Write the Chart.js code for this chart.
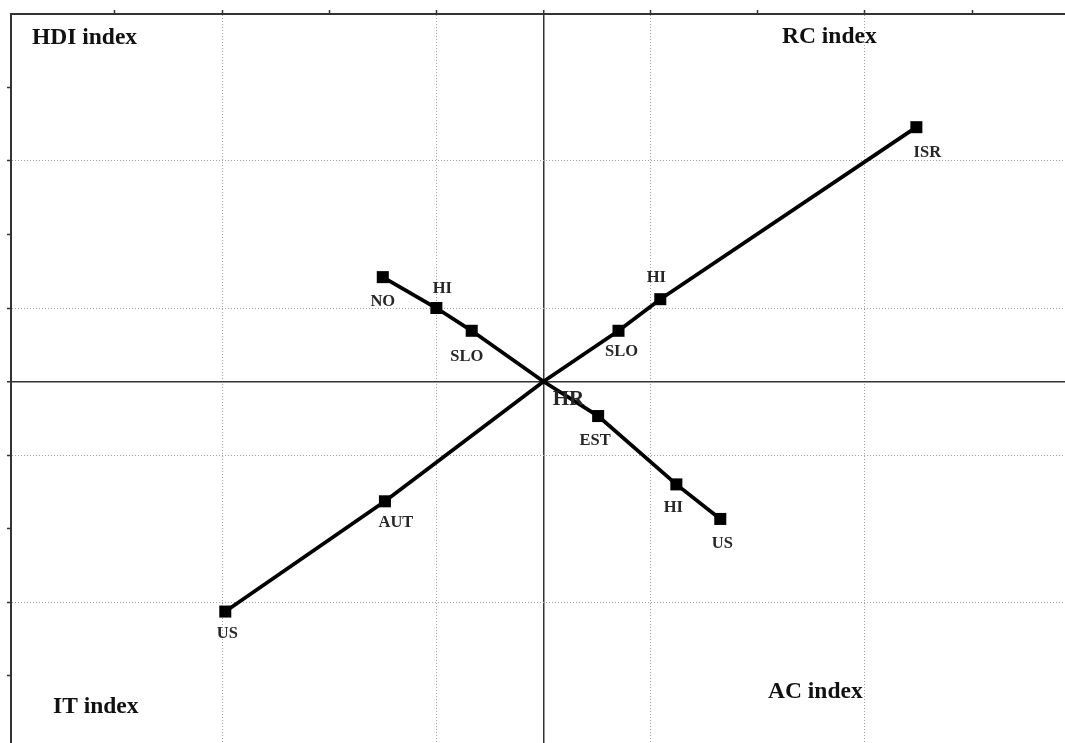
<!DOCTYPE html>
<html>
<head>
  <title>Index positions</title>
  <script src="https://cdn.jsdelivr.net/npm/chart.js"></script>
  <style>
    body { margin: 0; overflow: hidden; background: #fff; }
  </style>
</head>
<body>
  <canvas id="myChart" width="1090" height="765"></canvas>
  <script>
    // RC index (upper right) to IT index (lower left)
    const rcNames = ['US', 'AUT', 'HR', 'SLO', 'HI', 'ISR'];
    const rcX = [-2.97, -1.48, 0, 0.70, 1.09, 3.48];
    const rcY = [-3.13, -1.63, 0, 0.69, 1.12, 3.46];
    // HDI index (upper left) to AC index (lower right)
    const acNames = ['NO', 'HI', 'SLO', '', 'EST', 'HI', 'US'];
    const acX = [-1.50, -1.00, -0.67, 0, 0.51, 1.24, 1.65];
    const acY = [1.42, 1.0, 0.69, 0, -0.47, -1.40, -1.87];
    const quadrantNames = ['HDI index', 'RC index', 'IT index', 'AC index'];
    const tickValues = [-4, -3, -2, -1, 0, 1, 2, 3, 4];

    // label offsets from the marker, px
    const rcOffsets = [[2, 22], [11, 21], [25, 18], [3, 21], [-4, -21], [11, 26]];
    const acOffsets = [[0, 25], [6, -19], [-5, 26], [0, 0], [-3, 25], [-3, 23], [2, 25]];
    const quadrantPos = [[32, 38], [782, 37], [53, 707], [768, 692]];

    const gridColor = c => {
      if (!c.tick) return '#333';
      if (c.tick.value === 0) return '#333';
      return c.tick.value % 2 ? '#a0a0a0' : 'rgba(0,0,0,0)';
    };

    const labelPlugin = {
      id: 'pointNames',
      afterDatasetsDraw(chart) {
        const ctx = chart.ctx;
        ctx.save();
        ctx.fillStyle = '#262626';
        ctx.textAlign = 'center';
        ctx.textBaseline = 'middle';
        chart.data.datasets.forEach((ds, di) => {
          const meta = chart.getDatasetMeta(di);
          meta.data.forEach((pt, i) => {
            const name = ds.names[i];
            if (!name) return;
            const off = ds.offsets[i];
            ctx.font = name === 'HR' ? 'bold 21px "Liberation Serif"' : 'bold 16.5px "Liberation Serif"';
            ctx.fillText(name, pt.x + off[0], pt.y + off[1]);
          });
        });
        ctx.textAlign = 'left';
        ctx.fillStyle = '#111';
        ctx.font = 'bold 23.5px "Liberation Serif"';
        quadrantNames.forEach((t, i) => {
          ctx.fillText(t, quadrantPos[i][0], quadrantPos[i][1]);
        });
        ctx.restore();
      }
    };

    const markerRadius = c => (c.raw && c.raw.x === 0 && c.raw.y === 0) ? 0 : 8.5;

    const ctx = document.getElementById('myChart').getContext('2d');
    const myChart = new Chart(ctx, {
      type: 'scatter',
      data: {
        datasets: [{
          data: rcX.map((v, i) => ({x: v, y: rcY[i]})),
          names: rcNames,
          offsets: rcOffsets,
          showLine: true,
          borderColor: '#000',
          backgroundColor: '#000',
          borderWidth: 3.8,
          pointStyle: 'rect',
          pointRadius: markerRadius,
          pointBorderWidth: 0
        }, {
          data: acX.map((v, i) => ({x: v, y: acY[i]})),
          names: acNames,
          offsets: acOffsets,
          showLine: true,
          borderColor: '#000',
          backgroundColor: '#000',
          borderWidth: 3.8,
          pointStyle: 'rect',
          pointRadius: markerRadius,
          pointBorderWidth: 0
        }]
      },
      options: {
        responsive: false,
        animation: false,
        layout: { padding: { left: 7, top: 10, right: 14, bottom: 16 } },
        plugins: {
          legend: { display: false },
          tooltip: { enabled: false }
        },
        scales: {
          x: {
            type: 'linear',
            position: 'top',
            min: -4.97,
            max: 4.97,
            afterBuildTicks: axis => { axis.ticks = tickValues.map(v => ({value: v})); },
            ticks: { display: false },
            grid: {
              color: gridColor,
              lineWidth: c => (c.tick && c.tick.value === 0) ? 1.5 : 1,
              tickColor: '#333',
              tickLength: 4,
              tickWidth: 1.5
            },
            border: { color: '#333', width: 2, dash: c => (c.tick && c.tick.value !== 0) ? [1, 2] : [] }
          },
          y: {
            type: 'linear',
            min: -5,
            max: 5,
            afterBuildTicks: axis => { axis.ticks = tickValues.map(v => ({value: v})); },
            ticks: { display: false },
            grid: {
              color: gridColor,
              lineWidth: c => (c.tick && c.tick.value === 0) ? 1.5 : 1,
              tickColor: '#333',
              tickLength: 4,
              tickWidth: 1.5
            },
            border: { color: '#333', width: 2, dash: c => (c.tick && c.tick.value !== 0) ? [1, 2] : [] }
          }
        }
      },
      plugins: [labelPlugin]
    });
  </script>
</body>
</html>
